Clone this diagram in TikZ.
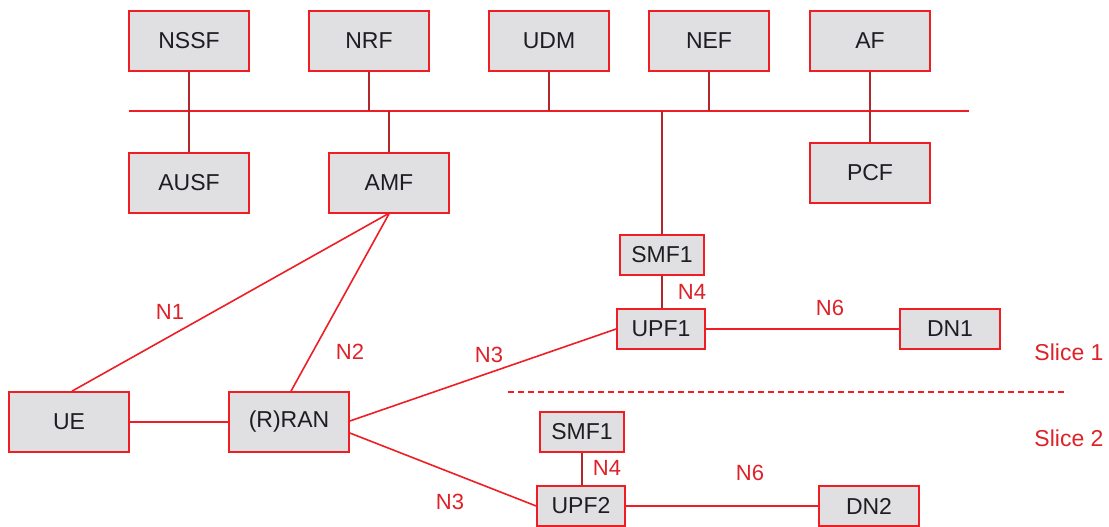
\documentclass[tikz,border=0pt]{standalone}
\usepackage{fontspec}
\setmainfont{Liberation Sans}
\definecolor{linered}{RGB}{238,30,36}
\definecolor{stubred}{RGB}{176,40,44}
\definecolor{boxfill}{RGB}{224,224,226}
\definecolor{labred}{RGB}{222,34,40}
\definecolor{boxtext}{RGB}{30,30,34}
\begin{document}
\begin{tikzpicture}[x=1pt,y=-1pt,
  nf/.style={draw=linered,line width=1.7pt,fill=boxfill,inner sep=0pt,
    text=boxtext,font=\fontsize{23}{27}\selectfont},
  big/.style={nf,minimum width=120pt,minimum height=60pt},
  small/.style={nf,minimum height=40pt},
  lnk/.style={draw=linered,line width=1.6pt},
  stub/.style={draw=stubred,line width=1.7pt},
  lab/.style={text=labred,inner sep=0pt,font=\fontsize{22}{26}\selectfont}]
\useasboundingbox (0,0) rectangle (1109,527);
\fill[white] (0,0) rectangle (1109,527);
% top row
\node[big] (nssf) at (189,41) {NSSF};
\node[big] (nrf)  at (369,41) {NRF};
\node[big] (udm)  at (549,41) {UDM};
\node[big] (nef)  at (709,41) {NEF};
\node[big] (af) at (870,41) {AF};
% second row
\node[big] (ausf) at (189,183) {AUSF};
\node[big] (amf)  at (389,183) {AMF};
\node[big] (pcf) at (870,173) {PCF};
% access
\node[big] (ue) at (69,422) {UE};
\node[big] (ran) at (289,422) {(R)RAN};
% slice 1
\node[small,minimum width=84pt] (smfa) at (662,255) {SMF1};
\node[small,minimum width=88pt] (upfa) at (661,329) {UPF1};
\node[small,minimum width=100pt] (dna) at (950,329) {DN1};
% slice 2
\node[small,minimum width=84pt] (smfb) at (582,432) {SMF1};
\node[small,minimum width=88pt] (upfb) at (581,506) {UPF2};
\node[small,minimum width=100pt] (dnb) at (869,506) {DN2};
% bus
\coordinate (busL) at (129,111);
\coordinate (busR) at (969,111);
\draw[lnk] (busL) -- (busR);
\draw[stub] (nssf.south) -- (nssf.south |- busL);
\draw[stub] (nrf.south) -- (nrf.south |- busL);
\draw[stub] (udm.south) -- (udm.south |- busL);
\draw[stub] (nef.south) -- (nef.south |- busL);
\draw[stub] (af.south) -- (af.south |- busL);
\draw[stub] (ausf.north) -- (ausf.north |- busL);
\draw[stub] (amf.north) -- (amf.north |- busL);
\draw[stub] (pcf.north) -- (pcf.north |- busL);
\draw[stub] (smfa.north) -- (smfa.north |- busL);
% links
\draw[lnk] ([xshift=3pt]ue.north) -- ([xshift=-1pt]amf.south);
\draw[lnk] ([xshift=2pt]ran.north) -- (amf.south);
\draw[lnk] (ue.east) -- (ran.east -| ran.west);
\draw[lnk] ([yshift=1pt]ran.east) -- (upfa.west);
\draw[lnk] ([yshift=-11pt]ran.east) -- (upfb.west);
\draw[stub] (smfa.south) -- (upfa.north -| smfa.south);
\draw[stub] (smfb.south) -- (upfb.north -| smfb.south);
\draw[lnk] (upfa.east) -- (dna.west);
\draw[lnk] (upfb.east) -- (dnb.west);
% slice separator
\coordinate (dashL) at (508,392);
\coordinate (dashR) at (1068,392);
\draw[draw=linered,line width=1.3pt,dash pattern=on 6pt off 4pt] (dashL) -- (dashR);
% labels
\node[lab] (lN1) at (170,312) {N1};
\node[lab] (lN2) at (350,352) {N2};
\node[lab] (lN3a) at (489,355) {N3};
\node[lab] (lN3b) at (450,502) {N3};
\node[lab] (lN4a) at (692,292) {N4};
\node[lab] (lN4b) at (607,468) {N4};
\node[lab] (lN6a) at (830,308) {N6};
\node[lab] (lN6b) at (750,473) {N6};
\node[lab,font=\fontsize{23}{27}\selectfont] (s1) at (1069,352) {Slice 1};
\node[lab,font=\fontsize{23}{27}\selectfont] (s2) at (1069,438) {Slice 2};
\end{tikzpicture}
\end{document}
